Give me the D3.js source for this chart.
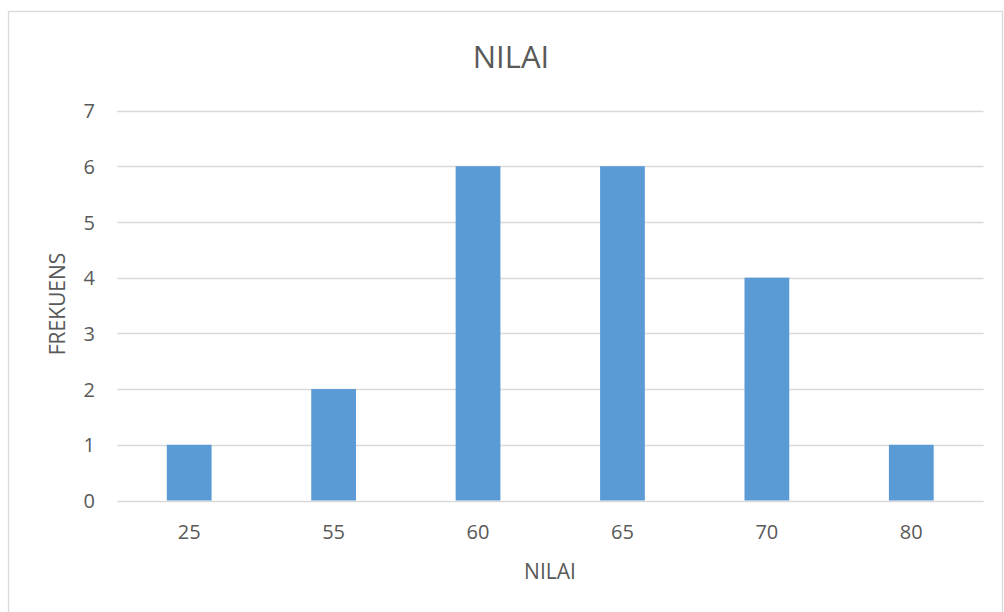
<!DOCTYPE html>
<html>
<head>
<meta charset="utf-8">
<script src="https://cdn.jsdelivr.net/npm/d3@7"></script>
<style>
  html, body { margin: 0; padding: 0; background: #fff; }
  svg { display: block; }
  text { font-family: "Open Sans", "Liberation Sans", sans-serif; fill: #595959; }
</style>
</head>
<body>
<script>
// Frequency of each score
const categories = ["25", "55", "60", "65", "70", "80"];
const frequencies = [1, 2, 6, 6, 4, 1];
const yTicks = [0, 1, 2, 3, 4, 5, 6, 7];

const W = 1004, H = 612;
const plot = { left: 117, right: 983.5, top: 110.5, bottom: 500.5 };

const svg = d3.select("body").append("svg")
  .attr("width", W).attr("height", H);

// chart frame
svg.append("rect")
  .attr("x", 8.5).attr("y", 11.5)
  .attr("width", 994).attr("height", 610)
  .attr("fill", "#fff").attr("stroke", "#d9d9d9").attr("stroke-width", 1.3);

const x = d3.scaleBand()
  .domain(categories)
  .range([plot.left, plot.right])
  .paddingInner(0.69).paddingOuter(0.345);

const y = d3.scaleLinear()
  .domain([0, 7])
  .range([plot.bottom, plot.top]);

// horizontal gridlines
svg.append("g").selectAll("line")
  .data(yTicks)
  .join("line")
  .attr("x1", plot.left).attr("x2", plot.right)
  .attr("y1", d => Math.round(y(d)) + 0.5).attr("y2", d => Math.round(y(d)) + 0.5)
  .attr("stroke", "#d9d9d9").attr("stroke-width", 1.3);

// y axis labels
const yAxis = d3.axisLeft(y).tickValues(yTicks).tickFormat(d3.format("d")).tickSize(0).tickPadding(0);
const gy = svg.append("g").attr("transform", `translate(95,0)`).call(yAxis);
gy.select(".domain").remove();
gy.selectAll("text").style("font-size", "20px").attr("fill", "#595959")
  .attr("font-family", null)
  .attr("dy", "0.36em").attr("text-anchor", "end");

// bars
svg.append("g").selectAll("rect")
  .data(categories.map((c, i) => ({ c, v: frequencies[i] })))
  .join("rect")
  .attr("x", d => x(d.c))
  .attr("width", x.bandwidth())
  .attr("y", d => y(d.v))
  .attr("height", d => y(0) - y(d.v))
  .attr("fill", "#5b9bd5");

// x axis labels
const xAxis = d3.axisBottom(x).tickSize(0).tickPadding(0);
const gx = svg.append("g").attr("transform", `translate(0,${plot.bottom + 31})`).call(xAxis);
gx.select(".domain").remove();
gx.selectAll("text").style("font-size", "20px").attr("fill", "#595959")
  .attr("font-family", null)
  .attr("dy", "0.36em");

// title
svg.append("text")
  .attr("x", 511).attr("y", 56)
  .attr("text-anchor", "middle").attr("dominant-baseline", "central")
  .style("font-size", "31px")
  .text("NILAI");

// axis titles
svg.append("text")
  .attr("x", 550).attr("y", 571)
  .attr("text-anchor", "middle").attr("dominant-baseline", "central")
  .style("font-size", "21px")
  .text("NILAI");

svg.append("text")
  .attr("transform", "translate(57,304) rotate(-90)")
  .attr("text-anchor", "middle").attr("dominant-baseline", "central")
  .style("font-size", "21px")
  .text("FREKUENS");
</script>
</body>
</html>
